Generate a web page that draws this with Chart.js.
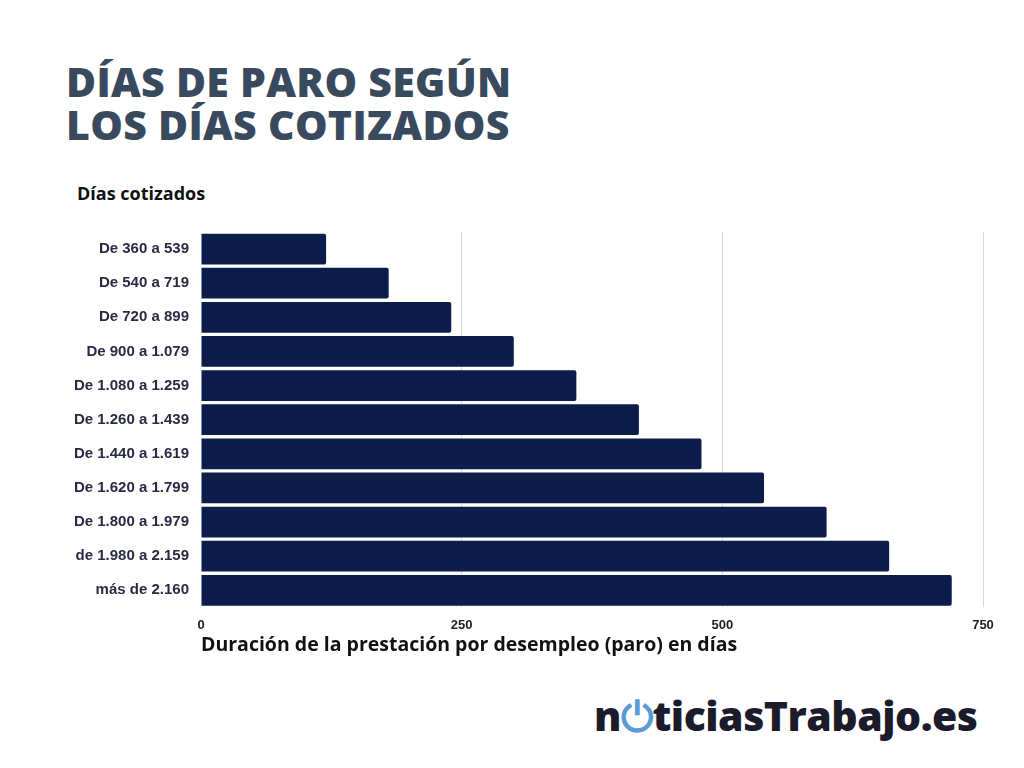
<!DOCTYPE html>
<html><head><meta charset="utf-8">
<script src="https://cdn.jsdelivr.net/npm/chart.js@4"></script>
<style>
body{margin:0;width:1024px;height:768px;background:#fff;position:relative;overflow:hidden;font-family:"Open Sans",sans-serif}
#title{position:absolute;left:66px;top:60px;font:800 41px/43px "Open Sans",sans-serif;color:#3a4a5e;letter-spacing:0.3px}
#ylab{position:absolute;left:77px;top:181px;font:700 18px "Open Sans";color:#111}
#xlab{position:absolute;left:201px;top:630px;font:700 19.5px "Open Sans";color:#111}
#logo{position:absolute;left:594px;top:687px;font:800 41px "Open Sans";color:#1b1b2b;letter-spacing:-0.5px}
#logo .o{color:#5b9bd5}
#wrap{position:absolute;left:0;top:219px;width:1024px;height:424px}
</style></head><body>
<div id="title">DÍAS DE PARO SEGÚN<br>LOS DÍAS COTIZADOS</div>
<div id="ylab">Días cotizados</div>
<div id="wrap"><canvas id="c"></canvas></div>
<div id="xlab">Duración de la prestación por desempleo (paro) en días</div>
<div id="logo">n<span class="o">⏻</span>ticiasTrabajo.es</div>
<script>
// Tramos de días cotizados
const categories = ["De 360 a 539","De 540 a 719","De 720 a 899","De 900 a 1.079","De 1.080 a 1.259","De 1.260 a 1.439","De 1.440 a 1.619","De 1.620 a 1.799","De 1.800 a 1.979","de 1.980 a 2.159","más de 2.160"];
// Días de prestación
const diasParo = [120,180,240,300,360,420,480,540,600,660,720];
const xTicks = [0,250,500,750];

new Chart(document.getElementById('c'), {
  type: 'bar',
  data: {
    labels: categories,
    datasets: [{
      data: diasParo,
      backgroundColor: '#0c1c4b',
      borderRadius: 2,
      borderSkipped: 'start',
      categoryPercentage: 1,
      barPercentage: 0.9
    }]
  },
  options: {
    indexAxis: 'y',
    responsive: true,
    maintainAspectRatio: false,
    animation: false,
    layout: { padding: { top: 0, right: 41, left: 0, bottom: 0 } },
    plugins: { legend: { display: false }, tooltip: { enabled: false } },
    scales: {
      x: {
        min: 0, max: 750,
        afterBuildTicks: s => { s.ticks = xTicks.map(v => ({ value: v })); },
        grid: { color: ctx => ctx.tick && ctx.tick.value === 0 ? 'rgba(0,0,0,0)' : '#d9d9d9', drawTicks: false },
        border: { display: false },
        ticks: { color: '#222', font: { family: 'Liberation Sans', weight: 'bold', size: 13 }, padding: 10 }
      },
      y: {
        afterFit: s => { s.width = 201; },
        grid: { display: false },
        border: { display: false },
        ticks: { color: '#2a2a45', font: { family: 'Liberation Sans', weight: 'bold', size: 15 }, padding: 4 }
      }
    }
  }
});
</script>
</body></html>
